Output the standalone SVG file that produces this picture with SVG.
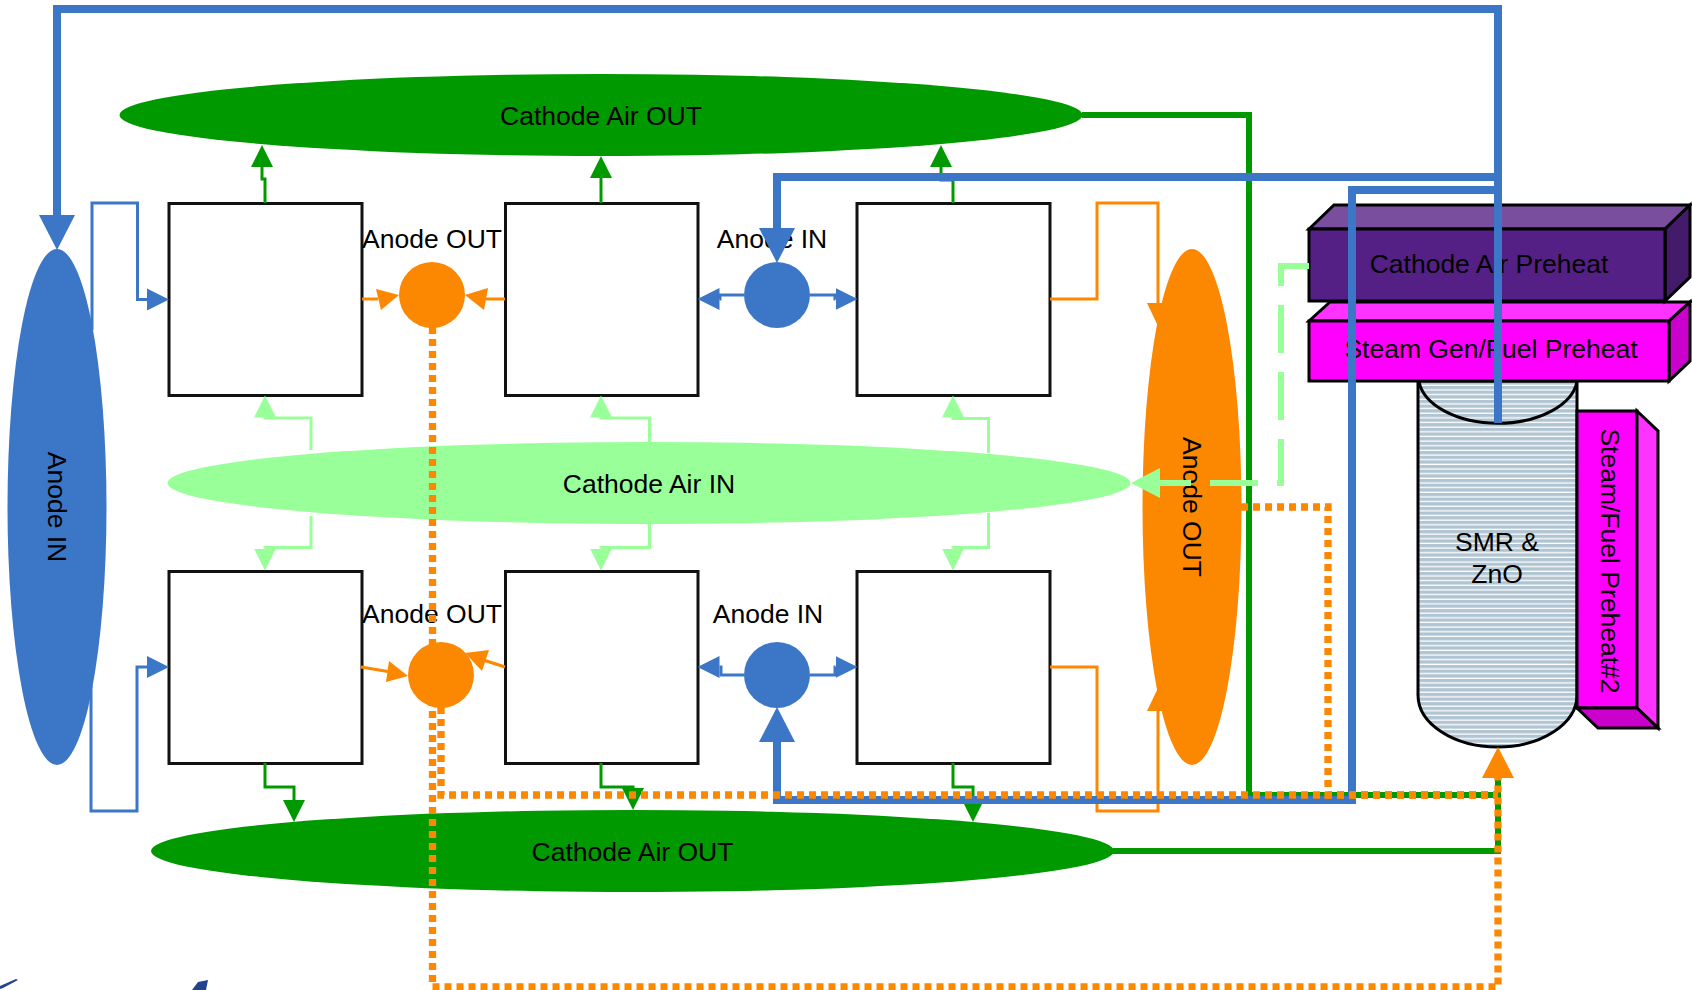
<svg xmlns="http://www.w3.org/2000/svg" width="1692" height="990" viewBox="0 0 1692 990">
<style>
text{font-family:"Liberation Sans",Arial,sans-serif;font-size:26.5px;fill:#000;text-anchor:middle}
.box{fill:#fff;stroke:#111;stroke-width:3}
.blk{stroke:#000;stroke-width:3;stroke-linejoin:miter}
.c{fill:none;stroke-linejoin:miter}
.tg{stroke:#009900;stroke-width:3}
.tl{stroke:#99ff99;stroke-width:3}
.to{stroke:#fc8700;stroke-width:3}
.tb{stroke:#3c76c6;stroke-width:3}
.Tb{stroke:#3c76c6;stroke-width:8}
.Tg{stroke:#009900;stroke-width:6}
.dot{stroke:#fc8700;stroke-width:7.3;stroke-dasharray:7 5}
.dash{stroke:#99ff99;stroke-width:6;stroke-dasharray:48 19}
.fb{fill:#3c76c6}.fo{fill:#fc8700}.fg{fill:#009900}.fl{fill:#99ff99}
</style>
<defs>
<marker id="ag" markerUnits="userSpaceOnUse" markerWidth="44" markerHeight="44" refX="0" refY="22" orient="auto"><path class="fg" d="M0,11L22,22L0,33z"/></marker>
<marker id="al" markerUnits="userSpaceOnUse" markerWidth="44" markerHeight="44" refX="0" refY="22" orient="auto"><path class="fl" d="M0,11L22,22L0,33z"/></marker>
<marker id="ao" markerUnits="userSpaceOnUse" markerWidth="44" markerHeight="44" refX="0" refY="22" orient="auto"><path class="fo" d="M0,11L23,22L0,33z"/></marker>
<marker id="ab" markerUnits="userSpaceOnUse" markerWidth="44" markerHeight="44" refX="0" refY="22" orient="auto"><path class="fb" d="M0,11L22,22L0,33z"/></marker>
<marker id="Ab" markerUnits="userSpaceOnUse" markerWidth="80" markerHeight="80" refX="0" refY="40" orient="auto"><path class="fb" d="M0,22L35,40L0,58z"/></marker>
<marker id="Ao" markerUnits="userSpaceOnUse" markerWidth="80" markerHeight="80" refX="0" refY="40" orient="auto"><path class="fo" d="M0,24L31,40L0,56z"/></marker>
<marker id="Al" markerUnits="userSpaceOnUse" markerWidth="80" markerHeight="80" refX="0" refY="40" orient="auto"><path class="fl" d="M0,25L29,40L0,55z"/></marker>
<pattern id="smr" patternUnits="userSpaceOnUse" width="8" height="4.65"><rect width="8" height="4.65" fill="#b0c4d2"/><rect y="3.35" width="8" height="1.3" fill="#fff"/></pattern>
</defs>

<g id="cathode-out-top"><ellipse class="fg" cx="601" cy="115" rx="481.500" ry="41"/><text x="601" y="125">Cathode Air OUT</text></g>
<g id="cathode-out-bottom"><ellipse class="fg" cx="632.500" cy="851" rx="481.500" ry="41"/><text x="632.500" y="861">Cathode Air OUT</text></g>
<g id="cathode-in"><ellipse class="fl" cx="649" cy="483" rx="481.500" ry="41"/><text x="649" y="493">Cathode Air IN</text></g>
<g id="anode-in-main"><ellipse class="fb" cx="57" cy="507" rx="49.500" ry="258"/><text transform="translate(48,507) rotate(90)">Anode IN</text></g>
<g id="anode-out-main"><ellipse class="fo" cx="1192" cy="507" rx="49.500" ry="258"/><text transform="translate(1183,507) rotate(90)">Anode OUT</text></g>

<g id="cell-1"><rect class="box" x="169" y="203.500" width="193" height="192"/></g>
<g id="cell-2"><rect class="box" x="505.500" y="203.500" width="192.500" height="192"/></g>
<g id="cell-3"><rect class="box" x="857" y="203.500" width="193" height="192"/></g>
<g id="cell-4"><rect class="box" x="169" y="571.500" width="193" height="192"/></g>
<g id="cell-5"><rect class="box" x="505.500" y="571.500" width="192.500" height="192"/></g>
<g id="cell-6"><rect class="box" x="857" y="571.500" width="193" height="192"/></g>

<g id="anode-out-top"><circle class="fo" cx="432" cy="295" r="33"/><text x="432" y="248">Anode OUT</text></g>
<g id="anode-in-top"><circle class="fb" cx="777" cy="295" r="33"/><text x="772" y="248">Anode IN</text></g>
<g id="anode-out-bottom"><circle class="fo" cx="441" cy="675" r="33"/><text x="432" y="623">Anode OUT</text></g>
<g id="anode-in-bottom"><circle class="fb" cx="777" cy="675" r="33"/><text x="768" y="623">Anode IN</text></g>

<g id="smr-zno">
<path d="M1418,381V695A79.500,52 0 0 0 1577,695V381z" fill="url(#smr)" stroke="#000" stroke-width="3"/>
<path d="M1418.900,381A79.500,47 0 0 0 1577.100,381" fill="none" stroke="#000" stroke-width="3"/>
<text x="1497" y="551">SMR &amp;</text><text x="1497" y="583">ZnO</text>
</g>
<g id="steam-fuel-preheat-2">
<rect class="blk" x="1577" y="411" width="60" height="297" fill="#ff00ff"/>
<path class="blk" d="M1637,411L1658,431V728L1637,708z" fill="#ff33ff"/>
<path class="blk" d="M1577,708H1637L1658,728H1598z" fill="#cc00cc"/>
<text transform="translate(1601,561) rotate(90)">Steam/Fuel Preheat#2</text>
</g>
<g id="steam-gen-preheat">
<path class="blk" d="M1309,321L1330,302H1690L1669,321z" fill="#ff33ff"/>
<path class="blk" d="M1669,321L1690,302V361L1669,381z" fill="#cc00cc"/>
<rect class="blk" x="1309" y="321" width="360" height="60" fill="#ff00ff"/>
<text x="1491" y="358">Steam Gen/Fuel Preheat</text>
</g>
<g id="cathode-air-preheat">
<path class="blk" d="M1309,229L1334,205H1690L1665,229z" fill="#7a4e9e"/>
<path class="blk" d="M1665,229L1690,205V277L1665,301z" fill="#441a6a"/>
<rect class="blk" x="1309" y="229" width="356" height="72" fill="#552085"/>
<text x="1489" y="273">Cathode Air Preheat</text>
</g>

<g id="connectors">
<g class="c tl">
<path marker-end="url(#al)" d="M311,450V418H265V417.500"/>
<path marker-end="url(#al)" d="M649.500,450V418H601V417.500"/>
<path marker-end="url(#al)" d="M988.500,453V418.500H953V417.500"/>
<path marker-end="url(#al)" d="M311,516V547.500H265V548.500"/>
<path marker-end="url(#al)" d="M649.500,516V547.500H601V548.500"/>
<path marker-end="url(#al)" d="M988.500,513V547.500H953V548.500"/>
</g>
<g class="c tg">
<path marker-end="url(#ag)" d="M265,203V179H262V167"/>
<path marker-end="url(#ag)" d="M601,203V178"/>
<path marker-end="url(#ag)" d="M953,203V180H941V167"/>
<path marker-end="url(#ag)" d="M265,763V787H294V800"/>
<path marker-end="url(#ag)" d="M601,763V787H633V788"/>
<path marker-end="url(#ag)" d="M953,763V787H973V800"/>
</g>
<g class="c to">
<path marker-end="url(#ao)" d="M1050,299H1097V203H1158V303"/>
<path marker-end="url(#ao)" d="M1050,667H1097V811H1158V711"/>
<path d="M362,299H378M505,299H486M361,667L388,671.500M505,667L485,660.500"/>
</g>
<g id="small-heads" class="fo">
<path d="M399,295L376,289L381,310z"/>
<path d="M465,295L488,288L484,310z"/>
<path d="M408,676L389,661L386,682z"/>
<path d="M465,653L489,650L482,671z"/>
</g>
<g class="c tb">
<path marker-end="url(#ab)" d="M92,330V203H137.500V299.500H147"/>
<path marker-end="url(#ab)" d="M91,685V811H137V667H147"/>
<path marker-end="url(#ab)" d="M744,295H720V299H719.500"/>
<path marker-end="url(#ab)" d="M810,295H835V299H835.500"/>
<path marker-end="url(#ab)" d="M744,675H721V667H719.500"/>
<path marker-end="url(#ab)" d="M810,675H835V667H835.500"/>
</g>
<g class="c Tg">
<path d="M1082,115H1249V795H1498"/>
<path d="M1113,851H1498V778"/>
</g>
<path class="c dash" d="M1309,266H1281V483H1160"/>
<path class="c" stroke="none" marker-end="url(#Al)" d="M1170,483H1160"/>
<g class="c Tb">
<path marker-end="url(#Ab)" d="M1498,423V9H57V215"/>
<path marker-end="url(#Ab)" d="M1498,177H777V228"/>
<path marker-end="url(#Ab)" d="M1498,190H1352V800H777V742"/>
</g>
<g class="c dot">
<path d="M1241,507H1328V795H1498"/>
<path d="M441,707V795H1498"/>
<path d="M432.500,327V987H1498V778"/>
</g>
<path class="c" stroke="none" marker-end="url(#Ao)" d="M1498,790V778"/>
</g>

<g id="logo-fragment" fill="#23428f">
<path d="M0,986L16,979L18,980L3,988L0,989z"/>
<path d="M192,990L198,982L208,980L206,990z"/>
</g>
</svg>
